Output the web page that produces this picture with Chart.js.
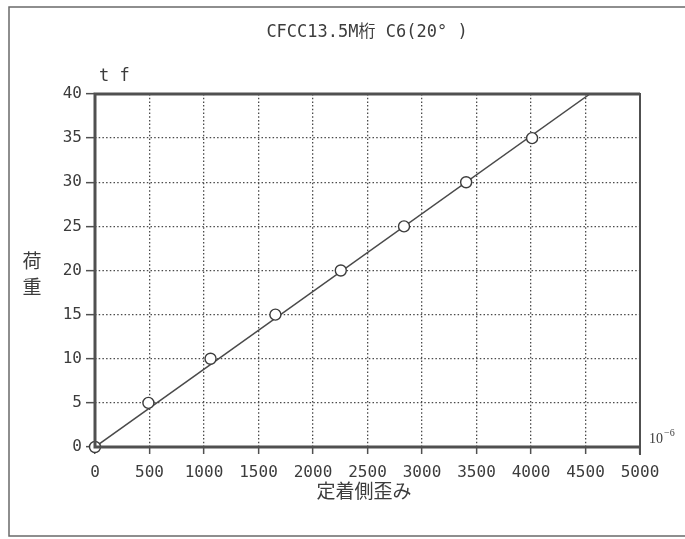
<!DOCTYPE html>
<html>
<head>
<meta charset="utf-8">
<script src="https://cdn.jsdelivr.net/npm/chart.js@4.4.1/dist/chart.umd.min.js"></script>
<style>
  body { margin: 0; background: #fff; }
  #wrap { width: 685px; height: 539px; }
</style>
</head>
<body>
<div id="wrap"><canvas id="loadChart" width="685" height="539"></canvas></div>
<script>
// measured points (strain x10^-6, load tf)
const strain = [0, 490, 1060, 1655, 2255, 2835, 3405, 4010];
const load = [0, 5, 10, 15, 20, 25, 30, 35];

// straight line drawn through the points
const fitStrain = [0, 4540];
const fitLoad = [0, 40];

const xTicks = [0, 500, 1000, 1500, 2000, 2500, 3000, 3500, 4000, 4500, 5000];
const yTicks = [0, 5, 10, 15, 20, 25, 30, 35, 40];

const chartTitle = 'CFCC13.5M桁 C6(20° )';
const yUnit = 't f';
const yTitle = ['荷', '重'];
const xTitle = '定着側歪み';

const ink = '#3c3c3c';
const monoFont = '"DejaVu Sans Mono", "Noto Sans CJK JP", monospace';

// frame, box round the plot and the loose texts
const decorations = {
  id: 'decorations',
  afterDraw(chart) {
    const { ctx, chartArea: a } = chart;
    ctx.save();

    // outer frame
    ctx.strokeStyle = '#6a6a6a';
    ctx.lineWidth = 1.5;
    ctx.beginPath();
    ctx.moveTo(685, 7); ctx.lineTo(9, 7); ctx.lineTo(9, 536); ctx.lineTo(685, 536);
    ctx.stroke();

    // plot box: heavy left, top, bottom, lighter right
    ctx.strokeStyle = '#505050';
    ctx.lineWidth = 3;
    ctx.beginPath();
    ctx.moveTo(a.right, a.top); ctx.lineTo(a.left, a.top); ctx.lineTo(a.left, a.bottom); ctx.lineTo(a.right, a.bottom);
    ctx.stroke();
    ctx.lineWidth = 2;
    ctx.beginPath();
    ctx.moveTo(a.right, a.top - 1); ctx.lineTo(a.right, a.bottom + 8);
    ctx.stroke();

    ctx.fillStyle = ink;
    ctx.textBaseline = 'middle';

    ctx.textAlign = 'center';
    ctx.font = '17px ' + monoFont;
    ctx.fillText(chartTitle, 367, 33);

    ctx.textAlign = 'left';
    ctx.font = '17px ' + monoFont;
    ctx.fillText(yUnit, 99, 77);

    ctx.textAlign = 'center';
    ctx.font = '19px "Noto Sans CJK JP"';
    ctx.fillText(yTitle[0], 32, 261);
    ctx.fillText(yTitle[1], 32, 287);
    ctx.fillText(xTitle, 364, 491);

    ctx.textAlign = 'left';
    ctx.font = '14px "Liberation Serif"';
    ctx.fillText('10', 649, 439);
    ctx.font = '10px "Liberation Serif"';
    ctx.fillText('−6', 664, 433);

    ctx.restore();
  }
};

const ctx = document.getElementById('loadChart').getContext('2d');
new Chart(ctx, {
  type: 'scatter',
  data: {
    datasets: [
      {
        label: 'fit',
        data: fitStrain.map((x, i) => ({ x, y: fitLoad[i] })),
        showLine: true,
        borderColor: '#4a4a4a',
        borderWidth: 1.5,
        pointRadius: 0,
        order: 2
      },
      {
        label: 'load',
        data: strain.map((x, i) => ({ x, y: load[i] })),
        showLine: false,
        clip: false,
        pointRadius: 5.5,
        pointStyle: 'circle',
        borderColor: '#3c3c3c',
        backgroundColor: '#fff',
        borderWidth: 1.4,
        order: 1
      }
    ]
  },
  options: {
    responsive: false,
    animation: false,
    devicePixelRatio: 1,
    layout: { padding: { left: 55, right: 45, top: 94, bottom: 52 } },
    plugins: {
      legend: { display: false },
      tooltip: { enabled: false }
    },
    scales: {
      x: {
        type: 'linear',
        min: 0,
        max: 5000,
        afterBuildTicks: s => { s.ticks = xTicks.map(v => ({ value: v })); },
        afterFit: s => { s.height = 40; },
        ticks: {
          color: ink,
          font: { family: monoFont, size: 16 },
          padding: 9,
          maxRotation: 0,
          callback: v => String(v)
        },
        grid: { color: '#4a4a4a', lineWidth: 1.3, tickLength: 7, tickColor: '#505050', tickWidth: 1.5, tickBorderDash: [] },
        border: { display: false, dash: [1.5, 2.2] }
      },
      y: {
        type: 'linear',
        min: 0,
        max: 40,
        afterBuildTicks: s => { s.ticks = yTicks.map(v => ({ value: v })); },
        afterFit: s => { s.width = 40; },
        ticks: { color: ink, font: { family: monoFont, size: 16 }, padding: 4, callback: v => String(v) },
        grid: { color: '#4a4a4a', lineWidth: 1.3, tickLength: 9, tickColor: '#505050', tickWidth: 1.5, tickBorderDash: [] },
        border: { display: false, dash: [1.5, 2.2] }
      }
    }
  },
  plugins: [decorations]
});
</script>
</body>
</html>
